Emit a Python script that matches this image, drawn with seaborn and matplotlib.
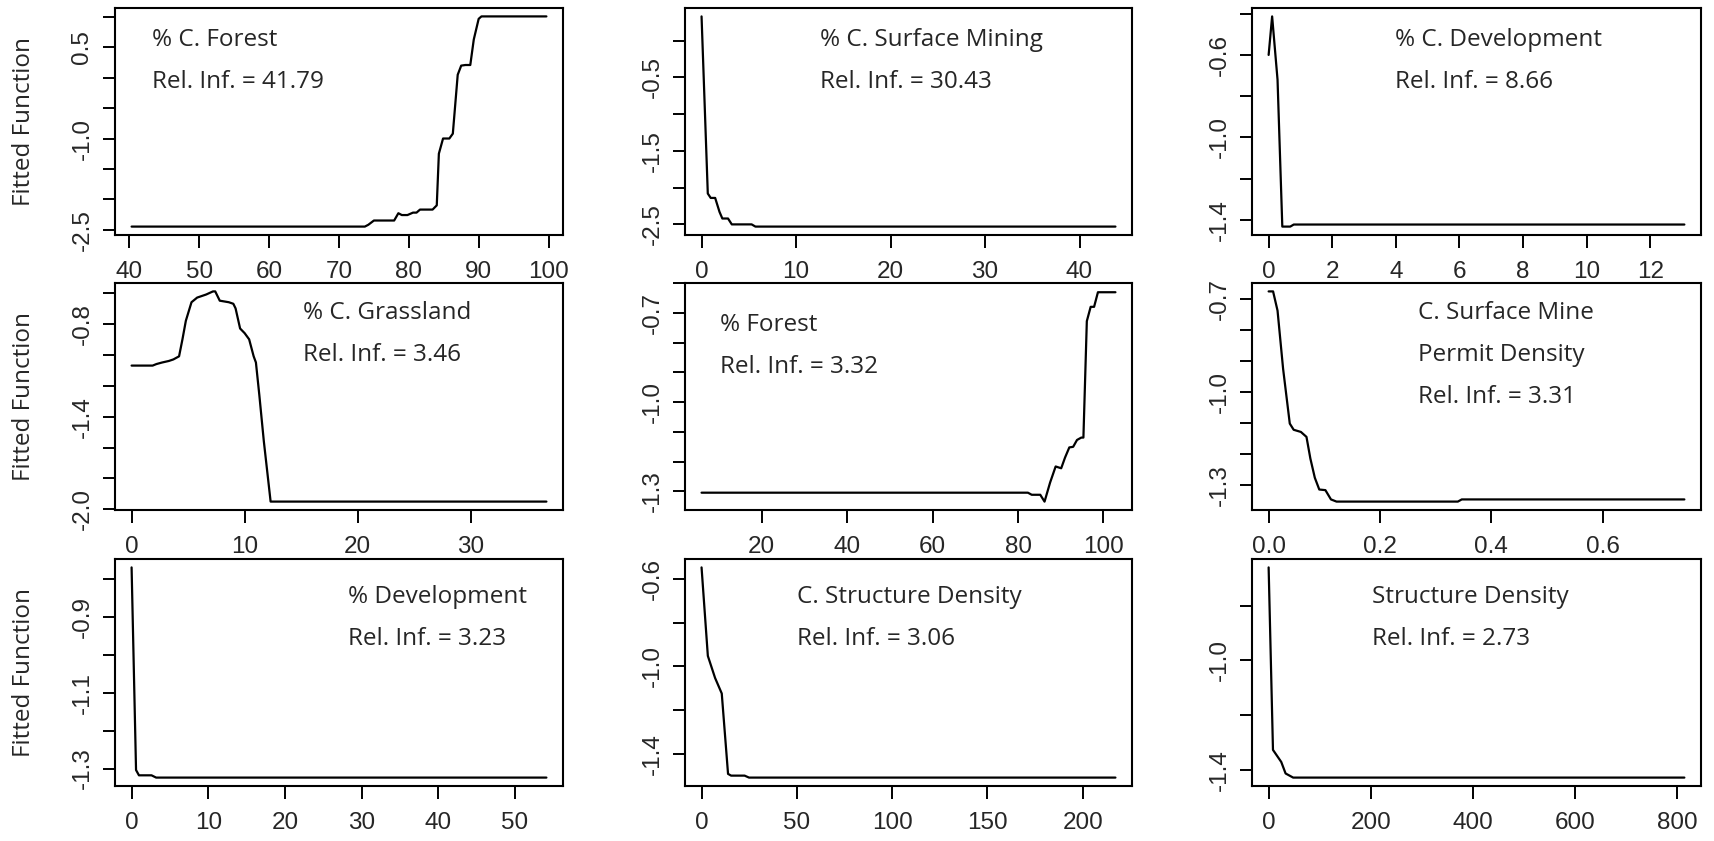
import matplotlib
matplotlib.use("Agg")
import matplotlib.pyplot as plt
import seaborn as sns

sns.set_style("ticks")
plt.rcParams["font.family"] = ["Liberation Sans", "DejaVu Sans"]

# ---- data (partial dependence curves) ----
cforest_x = [40.3, 73.7, 74.2, 75.0, 77.9, 78.5, 79.0, 79.8, 80.6, 81.1, 81.6, 83.4, 84.0,
             84.3, 84.9, 85.8, 86.3, 87.0, 87.5, 88.1, 88.8, 89.3, 90.0, 90.4, 99.7]
cforest_y = [-2.45, -2.45, -2.42, -2.35, -2.35, -2.23, -2.26, -2.26, -2.22, -2.22, -2.17, -2.17, -2.10,
             -1.25, -1.00, -1.00, -0.92, 0.05, 0.20, 0.21, 0.21, 0.63, 0.97, 1.01, 1.01]

csurf_x = [0.0, 0.66, 0.97, 1.44, 1.9, 2.2, 2.8, 3.2, 5.3, 5.7, 43.8]
csurf_y = [0.33, -2.08, -2.14, -2.14, -2.33, -2.42, -2.42, -2.50, -2.50, -2.53, -2.53]

cdev_x = [0.0, 0.11, 0.28, 0.43, 0.68, 0.79, 13.07]
cdev_y = [-0.60, -0.413, -0.72, -1.433, -1.433, -1.423, -1.423]

cgrass_x = [0.0, 1.86, 2.2, 2.7, 3.3, 3.7, 4.2, 4.5, 4.8, 5.3, 5.8, 6.6, 7.2, 7.4, 7.8, 8.6,
            9.0, 9.2, 9.6, 10.0, 10.4, 10.8, 11.0, 11.3, 11.7, 12.3, 36.7]
cgrass_y = [-1.07, -1.07, -1.06, -1.05, -1.04, -1.03, -1.01, -0.90, -0.78, -0.66, -0.63, -0.61,
            -0.59, -0.59, -0.65, -0.66, -0.67, -0.70, -0.83, -0.86, -0.90, -1.01, -1.05, -1.26,
            -1.56, -1.95, -1.95]

forest_x = [5.9, 82.3, 83.2, 85.2, 86.2, 87.5, 88.8, 90.1, 91.0, 92.0, 92.9, 93.8, 94.8, 95.3,
            96.1, 97.0, 97.8, 98.7, 102.8]
forest_y = [-1.304, -1.304, -1.311, -1.311, -1.334, -1.27, -1.216, -1.222, -1.186, -1.152, -1.15,
            -1.127, -1.119, -1.119, -0.728, -0.68, -0.68, -0.631, -0.631]

cpermit_x = [0.0, 0.008, 0.016, 0.026, 0.038, 0.045, 0.058, 0.068, 0.075, 0.083, 0.091, 0.102,
             0.112, 0.122, 0.340, 0.347, 0.747]
cpermit_y = [-0.676, -0.676, -0.738, -0.926, -1.103, -1.123, -1.13, -1.146, -1.216, -1.278,
             -1.316, -1.318, -1.348, -1.355, -1.355, -1.348, -1.348]

dev_x = [0.0, 0.58, 0.96, 2.6, 3.2, 54.1]
dev_y = [-0.769, -1.304, -1.318, -1.318, -1.324, -1.324]

cstruct_x = [0.0, 3.3, 7.1, 10.6, 13.9, 15.5, 22.6, 24.9, 217.2]
cstruct_y = [-0.547, -0.952, -1.053, -1.124, -1.492, -1.50, -1.50, -1.509, -1.509]

struct_x = [0, 8.5, 24.7, 33.2, 48, 813.7]
struct_y = [-0.661, -1.326, -1.370, -1.412, -1.427, -1.427]

titles = [["% C. Forest", "Rel. Inf. = 41.79"],
          ["% C. Surface Mining", "Rel. Inf. = 30.43"],
          ["% C. Development", "Rel. Inf. = 8.66"],
          ["% C. Grassland", "Rel. Inf. = 3.46"],
          ["% Forest", "Rel. Inf. = 3.32"],
          ["C. Surface Mine", "Permit Density", "Rel. Inf. = 3.31"],
          ["% Development", "Rel. Inf. = 3.23"],
          ["C. Structure Density", "Rel. Inf. = 3.06"],
          ["Structure Density", "Rel. Inf. = 2.73"]]

# y ticks and the labels R kept (blank = tick without label)
yticks = [[1.0, 0.5, 0.0, -0.5, -1.0, -1.5, -2.0, -2.5],
          [0.0, -0.5, -1.0, -1.5, -2.0, -2.5],
          [-0.4, -0.6, -0.8, -1.0, -1.2, -1.4],
          [-0.6, -0.8, -1.0, -1.2, -1.4, -1.6, -1.8, -2.0],
          [-0.6, -0.7, -0.8, -0.9, -1.0, -1.1, -1.2, -1.3],
          [-0.7, -0.8, -0.9, -1.0, -1.1, -1.2, -1.3],
          [-0.8, -0.9, -1.0, -1.1, -1.2, -1.3],
          [-0.6, -0.8, -1.0, -1.2, -1.4],
          [-0.8, -1.0, -1.2, -1.4]]
ylabels = [["", "0.5", "", "", "-1.0", "", "", "-2.5"],
           ["", "-0.5", "", "-1.5", "", "-2.5"],
           ["", "-0.6", "", "-1.0", "", "-1.4"],
           ["", "-0.8", "", "", "-1.4", "", "", "-2.0"],
           ["", "-0.7", "", "", "-1.0", "", "", "-1.3"],
           ["-0.7", "", "", "-1.0", "", "", "-1.3"],
           ["", "-0.9", "", "-1.1", "", "-1.3"],
           ["-0.6", "", "-1.0", "", "-1.4"],
           ["", "-1.0", "", "-1.4"]]
xticks = [[40, 50, 60, 70, 80, 90, 100],
          [0, 10, 20, 30, 40],
          [0, 2, 4, 6, 8, 10, 12],
          [0, 10, 20, 30],
          [20, 40, 60, 80, 100],
          [0.0, 0.2, 0.4, 0.6],
          [0, 10, 20, 30, 40, 50],
          [0, 50, 100, 150, 200],
          [0, 200, 400, 600, 800]]
xlabels = [["40", "50", "60", "70", "80", "90", "100"],
           ["0", "10", "20", "30", "40"],
           ["0", "2", "4", "6", "8", "10", "12"],
           ["0", "10", "20", "30"],
           ["20", "40", "60", "80", "100"],
           ["0.0", "0.2", "0.4", "0.6"],
           ["0", "10", "20", "30", "40", "50"],
           ["0", "50", "100", "150", "200"],
           ["0", "200", "400", "600", "800"]]

series = [(cforest_x, cforest_y), (csurf_x, csurf_y), (cdev_x, cdev_y),
          (cgrass_x, cgrass_y), (forest_x, forest_y), (cpermit_x, cpermit_y),
          (dev_x, dev_y), (cstruct_x, cstruct_y), (struct_x, struct_y)]

# ---- layout (pixels of the 1715x841 figure) ----
W, H = 1715, 841
col_left = [115, 685, 1252]
col_right = [563, 1132, 1701]
row_top = [8, 283, 559]
row_bot = [235, 510, 786]
text_left = [152, 820, 1395, 303, 720, 1418, 348, 797, 1372]
text_top = [40, 40, 40, 313, 325, 313, 597, 597, 597]
text_step = 42
note_font = ["Open Sans", "DejaVu Sans"]

fig = plt.figure(figsize=(W / 100, H / 100), dpi=100)

for i, (xs, ys) in enumerate(series):
    r, c = divmod(i, 3)
    l, rr = col_left[c], col_right[c]
    t, b = row_top[r], row_bot[r]
    ax = fig.add_axes([l / W, 1 - b / H, (rr - l) / W, (b - t) / H])
    sns.lineplot(x=xs, y=ys, ax=ax, color="black", linewidth=1.6, estimator=None, sort=False)
    ax.margins(x=0.04, y=0.04)
    ax.set_yticks(yticks[i], ylabels[i])
    ax.set_xticks(xticks[i], xlabels[i])
    ax.tick_params(axis="both", width=1.4, color="black", labelsize=17.5, direction="out")
    ax.tick_params(axis="x", length=9.5, pad=9)
    ax.tick_params(axis="y", length=8.5, labelrotation=90, pad=7)
    for lab in ax.get_yticklabels():
        lab.set_va("center")
    for s in ax.spines.values():
        s.set_visible(True)
        s.set_linewidth(1.5)
        s.set_color("black")
    ax.set_facecolor("white")

    for j, line in enumerate(titles[i]):
        fig.text(text_left[i] / W, 1 - (text_top[i] + j * text_step) / H, line,
                 fontsize=17.5, va="center", ha="left", family=note_font)

    if c == 0:
        fig.text(24 / W, 1 - (t + b) / 2 / H, "Fitted Function", rotation=90,
                 fontsize=17.5, va="center", ha="center", family=note_font)

fig.savefig("out.png", dpi=100, facecolor="white")
